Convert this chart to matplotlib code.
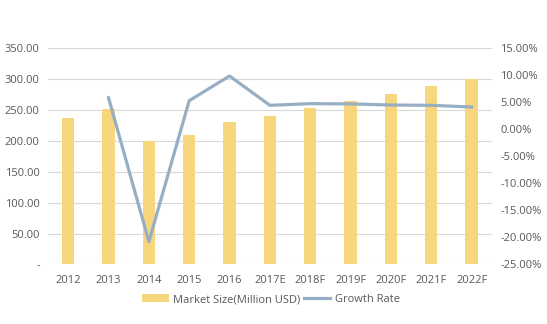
#! /usr/bin/env python3

import matplotlib
matplotlib.use("Agg")
import matplotlib.pyplot as plt
import numpy as np

years = ["2012", "2013", "2014", "2015", "2016", "2017E",
         "2018F", "2019F", "2020F", "2021F", "2022F"]
market_size = [237.5, 252.0, 199.8, 209.5, 230.5, 240.3,
               252.7, 264.6, 276.5, 289.0, 300.0]
growth_rate = [None, 5.85, -20.8, 5.3, 9.87, 4.44,
               4.75, 4.7, 4.5, 4.44, 4.13]

plt.rcParams['font.family'] = ['Open Sans', 'DejaVu Sans']
text_color = "#595959"

fig = plt.figure(figsize=(5.47, 3.24), dpi=100)
ax = fig.add_axes([0.0878, 0.184, 0.8112, 0.667])
ax2 = ax.twinx()

x = np.arange(len(years))
ax.bar(x, market_size, width=0.31, color="#F8D67E", label="Market Size(Million USD)", zorder=2)

gx = [i for i, g in enumerate(growth_rate) if g is not None]
gy = [g for g in growth_rate if g is not None]
ax2.plot(gx, gy, color="#97AFC4", linewidth=2.3, label="Growth Rate", zorder=3)

ax.set_xlim(-0.5, len(years) - 0.5)
ax.set_ylim(0, 350)
ax.set_yticks(np.arange(0, 351, 50))
ax.set_yticklabels(["-"] + ["%.2f" % v for v in np.arange(50, 351, 50)])
ax2.set_ylim(-25, 15)
ax2.set_yticks(np.arange(-25, 16, 5))
ax2.set_yticklabels(["%.2f%%" % v for v in np.arange(-25, 16, 5)])

ax.set_xticks(x)
ax.set_xticklabels(years)

ax.grid(axis="y", color="#D9D9D9", linewidth=0.8, zorder=0)
ax.set_axisbelow(True)
for a in (ax, ax2):
    for s in a.spines.values():
        s.set_visible(False)
    a.tick_params(length=0, labelsize=8, colors=text_color)
ax.tick_params(axis="y", pad=6)
ax.tick_params(axis="x", pad=8)
ax2.tick_params(axis="y", pad=6)

h1, l1 = ax.get_legend_handles_labels()
h2, l2 = ax2.get_legend_handles_labels()
leg = fig.legend(h1 + h2, l1 + l2, loc="center", bbox_to_anchor=(0.495, 0.075),
                 ncol=2, frameon=False, fontsize=8, handlelength=2.4,
                 columnspacing=0.3, handletextpad=0.4)
for t in leg.get_texts():
    t.set_color(text_color)

fig.savefig("out.png", dpi=100)
